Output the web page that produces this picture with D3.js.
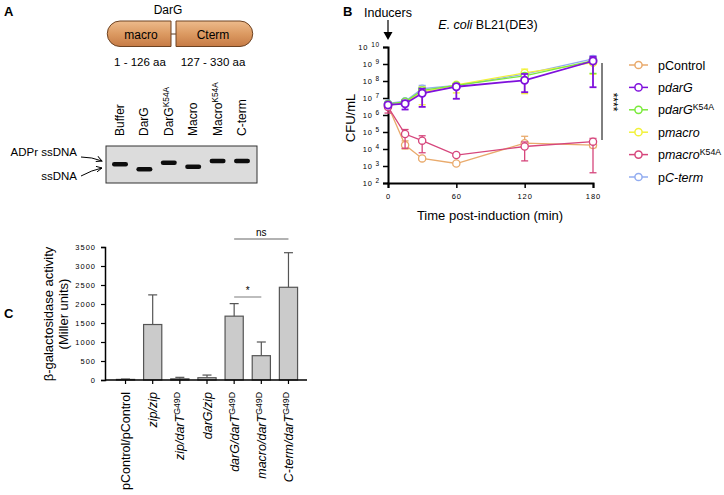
<!DOCTYPE html>
<html>
<head>
<meta charset="utf-8">
<script src="https://cdn.jsdelivr.net/npm/d3@7"></script>
<style>
body { margin: 0; background: #fff; }
svg { font-family: "Liberation Sans", Arial, sans-serif; }
</style>
</head>
<body>
<svg id="fig" width="724" height="495"></svg>
<script>
// ---------- data ----------
// panel A: gel lanes and band migration (distance below gel top, arbitrary units)
var gelLanes = ["Buffer", "DarG", "DarG^K54A", "Macro", "Macro^K54A", "C-term"];
var gelBands = [18.3, 23.3, 16.7, 20.7, 15, 15];

// panel B: CFU/mL over time
var times = [0, 15, 30, 60, 120, 180];
var seriesNames = ["pControl", "p|darG", "p|darG|K54A", "p|macro", "p|macro|K54A", "p|C-term"];
var seriesColors = ["#E9AA6C", "#7F10DC", "#7BEA3C", "#F2F23A", "#D6467C", "#92ACF0"];
var pControl = [3.5e6, 1.7e4, 2.8e3, 1.4e3, 2.2e4, 1.7e4];
var pControlLo = [2.6e6, 1.0e4, 2.3e3, 1.1e3, 1.6e4, 1.2e4];
var pControlHi = [4.8e6, 3.0e4, 3.4e3, 1.8e3, 5.6e4, 2.4e4];
var pDarG = [3.9e6, 4.6e6, 1.9e7, 4.6e7, 1.1e8, 1.5e9];
var pDarGLo = [3.0e6, 2.1e6, 3.0e6, 9.0e6, 2.2e7, 4.3e7];
var pDarGHi = [5.0e6, 7.0e6, 3.5e7, 6.5e7, 2.6e8, 2.7e9];
var pDarGK54A = [4.5e6, 6.0e6, 2.8e7, 5.5e7, 2.0e8, 1.6e9];
var pDarGK54ALo = [3.5e6, 4.5e6, 1.8e7, 4.0e7, 1.4e8, 2.8e8];
var pDarGK54AHi = [5.5e6, 7.5e6, 4.0e7, 7.0e7, 2.8e8, 2.2e9];
var pMacro = [3.6e6, 5.5e6, 2.2e7, 6.0e7, 3.0e8, 1.2e9];
var pMacroLo = [2.8e6, 4.0e6, 4.0e6, 2.0e7, 1.8e7, 2.5e8];
var pMacroHi = [5.0e6, 7.0e6, 4.5e7, 8.0e7, 5.0e8, 1.8e9];
var pMacroK54A = [3.0e6, 7.6e4, 3.1e4, 4.4e3, 1.4e4, 2.7e4];
var pMacroK54ALo = [1.3e6, 1.1e4, 6.0e3, 3.8e3, 2.0e3, 4.0e2];
var pMacroK54AHi = [4.0e6, 1.4e5, 6.0e4, 5.0e3, 2.6e4, 4.2e4];
var pCterm = [4.8e6, 6.5e6, 3.5e7, 5.5e7, 2.5e8, 2.0e9];
var pCtermLo = [4.0e6, 5.0e6, 2.5e7, 4.5e7, 1.8e8, 1.2e9];
var pCtermHi = [6.0e6, 8.0e6, 5.5e7, 7.0e7, 3.5e8, 3.0e9];
var logTicks = [1e2, 1e3, 1e4, 1e5, 1e6, 1e7, 1e8, 1e9, 1e10];
var timeTicks = [0, 60, 120, 180];

// panel C: beta-galactosidase activity
var pairs = ["pControl/pControl", "zip/zip", "zip/darT^G49D", "darG/zip", "darG/darT^G49D", "macro/darT^G49D", "C-term/darT^G49D"];
var activity = [15, 1460, 30, 60, 1680, 640, 2440];
var activityErr = [25, 2240, 70, 130, 2010, 1000, 3350];
var activityTicks = [0, 500, 1000, 1500, 2000, 2500, 3000, 3500];

var svg = d3.select("#fig");

// helper: text with italic parts and superscript, "a|b|c" = upright|italic|sup
function richText(sel, label, italicAll) {
    var parts = label.split("^");
    var main = parts[0].split("|");
    if (main.length > 1) {
        sel.append("tspan").text(main[0]);
        sel.append("tspan").attr("font-style", "italic").text(main[1]);
        if (main[2]) sel.append("tspan").attr("font-size", "0.7em").attr("dy", "-0.45em").text(main[2]);
    } else {
        sel.append("tspan").attr("font-style", italicAll ? "italic" : null).text(main[0]);
    }
    if (parts[1]) sel.append("tspan").attr("font-size", "0.7em").attr("dy", "-0.45em").text(parts[1]);
}

// panel letters
svg.append("text").attr("x", 4).attr("y", 16).attr("font-weight", "bold").attr("font-size", 13).text("A");
svg.append("text").attr("x", 343).attr("y", 16).attr("font-weight", "bold").attr("font-size", 13).text("B");
svg.append("text").attr("x", 4).attr("y", 318).attr("font-weight", "bold").attr("font-size", 13).text("C");

// ---------- panel A ----------
var defs = svg.append("defs");
var grad = defs.append("linearGradient").attr("id", "dom").attr("x1", 0).attr("y1", 0).attr("x2", 0).attr("y2", 1);
grad.append("stop").attr("offset", "0%").attr("stop-color", "#EDBB8C");
grad.append("stop").attr("offset", "50%").attr("stop-color", "#DC9A62");
grad.append("stop").attr("offset", "100%").attr("stop-color", "#C67B45");
defs.append("filter").attr("id", "blur").append("feGaussianBlur").attr("stdDeviation", 0.7);
defs.append("marker").attr("id", "arr").attr("viewBox", "0 0 10 10").attr("refX", 9).attr("refY", 5)
    .attr("markerWidth", 7).attr("markerHeight", 7).attr("orient", "auto")
    .append("path").attr("d", "M1,1L9,5L1,9").attr("fill", "none").attr("stroke", "#000").attr("stroke-width", 1.3);

var A = svg.append("g");
A.append("text").attr("x", 168).attr("y", 14).attr("text-anchor", "middle").attr("font-size", 12).text("DarG");
A.append("line").attr("x1", 171).attr("x2", 176).attr("y1", 34).attr("y2", 34).attr("stroke", "#5a3a20");
A.append("path").attr("d", "M120,21 H171 V46.5 H120 A12.75,12.75 0 0 1 120,21 Z")
    .attr("fill", "url(#dom)").attr("stroke", "#6e4322").attr("stroke-width", 1);
A.append("path").attr("d", "M176,21 H240 A12.75,12.75 0 0 1 240,46.5 H176 Z")
    .attr("fill", "url(#dom)").attr("stroke", "#6e4322").attr("stroke-width", 1);
A.append("text").attr("x", 141).attr("y", 38.5).attr("text-anchor", "middle").attr("font-size", 12).text("macro");
A.append("text").attr("x", 213).attr("y", 38.5).attr("text-anchor", "middle").attr("font-size", 12).text("Cterm");
A.append("text").attr("x", 140).attr("y", 66).attr("text-anchor", "middle").attr("font-size", 11.5).text("1 - 126 aa");
A.append("text").attr("x", 213).attr("y", 66).attr("text-anchor", "middle").attr("font-size", 11.5).text("127 - 330 aa");

var laneX = d3.scalePoint().domain(gelLanes).range([120, 242]);
var migY = d3.scaleLinear().domain([0, 37]).range([146, 183]);

gelLanes.forEach(function(l) {
    var t = A.append("text").attr("font-size", 12)
        .attr("transform", "translate(" + (laneX(l) + 4) + ",136) rotate(-90)");
    richText(t, l, false);
});
A.append("rect").attr("x", 106).attr("y", 146).attr("width", 151).attr("height", 37)
    .attr("fill", "#dcdcdc").attr("stroke", "#333").attr("stroke-width", 1);
A.selectAll(".band").data(gelLanes).enter().append("rect")
    .attr("x", function(d) { return laneX(d) - 8; })
    .attr("y", function(d, i) { return migY(gelBands[i]) - 2.2; })
    .attr("width", 16).attr("height", 4.4).attr("rx", 2.2)
    .attr("fill", "#111").attr("filter", "url(#blur)");
A.append("text").attr("x", 77).attr("y", 156).attr("text-anchor", "end").attr("font-size", 11.5).text("ADPr ssDNA");
A.append("text").attr("x", 77).attr("y", 180).attr("text-anchor", "end").attr("font-size", 11.5).text("ssDNA");
A.append("path").attr("d", "M81,157 Q92,157 102,161").attr("fill", "none").attr("stroke", "#000").attr("marker-end", "url(#arr)");
A.append("path").attr("d", "M81,176 Q92,170 102,168").attr("fill", "none").attr("stroke", "#000").attr("marker-end", "url(#arr)");

// ---------- panel B ----------
var xB = d3.scaleLinear().domain([0, 180]).range([388, 593]);
var yB = d3.scaleLog().domain([1e2, 1e10]).range([183, 47]);
var B = svg.append("g");

B.append("text").attr("x", 388).attr("y", 17).attr("text-anchor", "middle").attr("font-size", 12.5).text("Inducers");
B.append("line").attr("x1", 388).attr("x2", 388).attr("y1", 20).attr("y2", 33).attr("stroke", "#000").attr("stroke-width", 1.2);
B.append("path").attr("d", "M383.5,32 L392.5,32 L388,40 Z").attr("fill", "#000");
var ttl = B.append("text").attr("x", 488).attr("y", 29).attr("text-anchor", "middle").attr("font-size", 12.5);
ttl.append("tspan").attr("font-style", "italic").text("E. coli");
ttl.append("tspan").text(" BL21(DE3)");

var yAxB = B.append("g").attr("transform", "translate(388,0)")
    .call(d3.axisLeft(yB).tickValues(logTicks).tickSize(5).tickFormat(""));
yAxB.selectAll(".tick").append("text").attr("x", -8).attr("dy", "0.32em").attr("text-anchor", "end")
    .attr("fill", "#000").attr("font-size", 7.5).attr("letter-spacing", 0.8)
    .each(function(d) {
        var t = d3.select(this);
        t.append("tspan").text("10 ");
        t.append("tspan").attr("font-size", 6.5).attr("dy", "-0.5em").text(Math.round(Math.log10(d)));
    });
var xAxB = B.append("g").attr("transform", "translate(0,183)")
    .call(d3.axisBottom(xB).tickValues(timeTicks).tickSize(5).tickPadding(6));
xAxB.selectAll("text").attr("font-size", 7.5).attr("letter-spacing", 1).attr("fill", "#000");
[yAxB, xAxB].forEach(function(g) {
    g.select(".domain").attr("stroke-width", 2);
    g.selectAll(".tick line").attr("stroke-width", 1.5);
});

B.append("text").attr("transform", "translate(355,118) rotate(-90)").attr("text-anchor", "middle")
    .attr("font-size", 13).text("CFU/mL");
B.append("text").attr("x", 490).attr("y", 220).attr("text-anchor", "middle").attr("font-size", 13)
    .text("Time post-induction (min)");

var series = [
    {v: pControl, lo: pControlLo, hi: pControlHi, c: 0},
    {v: pCterm, lo: pCtermLo, hi: pCtermHi, c: 5},
    {v: pMacro, lo: pMacroLo, hi: pMacroHi, c: 3},
    {v: pDarGK54A, lo: pDarGK54ALo, hi: pDarGK54AHi, c: 2},
    {v: pMacroK54A, lo: pMacroK54ALo, hi: pMacroK54AHi, c: 4},
    {v: pDarG, lo: pDarGLo, hi: pDarGHi, c: 1}
];
var lineB = d3.line().x(function(d) { return xB(d[0]); }).y(function(d) { return yB(d[1]); });

series.forEach(function(s) {
    var col = seriesColors[s.c];
    var w = s.c == 1 ? 1.8 : 1.3;
    var g = B.append("g");
    var pts = times.map(function(t, i) { return [t, s.v[i]]; });
    g.append("path").datum(pts).attr("d", lineB).attr("fill", "none").attr("stroke", col).attr("stroke-width", w);
    times.forEach(function(t, i) {
        var x = xB(t);
        g.append("line").attr("x1", x).attr("x2", x).attr("y1", yB(s.lo[i])).attr("y2", yB(s.hi[i]))
            .attr("stroke", col).attr("stroke-width", w);
        [s.lo[i], s.hi[i]].forEach(function(e) {
            g.append("line").attr("x1", x - 3.5).attr("x2", x + 3.5).attr("y1", yB(e)).attr("y2", yB(e))
                .attr("stroke", col).attr("stroke-width", w);
        });
    });
    g.selectAll("circle").data(pts).enter().append("circle")
        .attr("cx", function(d) { return xB(d[0]); }).attr("cy", function(d) { return yB(d[1]); })
        .attr("r", 3.6).attr("fill", "#fff").attr("stroke", col).attr("stroke-width", w);
});

B.append("line").attr("x1", 602).attr("x2", 602).attr("y1", 63).attr("y2", 140).attr("stroke", "#000").attr("stroke-width", 1);
B.append("text").attr("transform", "translate(609,102) rotate(90)").attr("text-anchor", "middle")
    .attr("font-size", 12).text("****");

// legend
var legY = d3.scalePoint().domain(seriesNames).range([65, 177]);
seriesNames.forEach(function(n, i) {
    var y = legY(n);
    B.append("line").attr("x1", 629).attr("x2", 648).attr("y1", y).attr("y2", y)
        .attr("stroke", seriesColors[i]).attr("stroke-width", 1.5);
    B.append("circle").attr("cx", 638.5).attr("cy", y).attr("r", 3.6).attr("fill", "#fff")
        .attr("stroke", seriesColors[i]).attr("stroke-width", 1.5);
    var t = B.append("text").attr("x", 658).attr("y", y + 4.5).attr("font-size", 12.5);
    richText(t, n, false);
});

// ---------- panel C ----------
var xC = d3.scaleBand().domain(pairs).range([111, 303]).paddingInner(0.33).paddingOuter(0.2);
var yC = d3.scaleLinear().domain([0, 3500]).range([380, 247]);
var C = svg.append("g");

C.selectAll(".err").data(pairs).enter().append("g").each(function(d, i) {
    var g = d3.select(this), x = xC(d) + xC.bandwidth() / 2;
    g.append("line").attr("x1", x).attr("x2", x).attr("y1", yC(activity[i])).attr("y2", yC(activityErr[i]))
        .attr("stroke", "#555").attr("stroke-width", 1.2);
    g.append("line").attr("x1", x - 4.5).attr("x2", x + 4.5).attr("y1", yC(activityErr[i])).attr("y2", yC(activityErr[i]))
        .attr("stroke", "#555").attr("stroke-width", 1.2);
});
C.selectAll(".bar").data(pairs).enter().append("rect")
    .attr("x", function(d) { return xC(d); })
    .attr("y", function(d, i) { return yC(activity[i]); })
    .attr("width", xC.bandwidth())
    .attr("height", function(d, i) { return yC(0) - yC(activity[i]); })
    .attr("fill", "#cbcbcb").attr("stroke", "#555").attr("stroke-width", 1.2);

var yAxC = C.append("g").attr("transform", "translate(105,0)")
    .call(d3.axisLeft(yC).tickValues(activityTicks).tickSize(4).tickPadding(5).tickFormat(d3.format("d")));
yAxC.selectAll("text").attr("font-size", 7.5).attr("letter-spacing", 1).attr("fill", "#000");
var xAxC = C.append("g").attr("transform", "translate(0,380)")
    .call(d3.axisBottom(xC).tickSize(4).tickFormat(""));
xAxC.select(".domain").attr("d", "M105,0H307");
[yAxC, xAxC].forEach(function(g) {
    g.select(".domain").attr("stroke-width", 1.5);
    g.selectAll(".tick line").attr("stroke-width", 1.2);
});

pairs.forEach(function(p, i) {
    var t = C.append("text").attr("font-size", 12.5).attr("text-anchor", "end")
        .attr("transform", "translate(" + (xC(p) + xC.bandwidth() / 2 + 4.5) + ",392) rotate(-90)");
    richText(t, p, i > 0);
});

C.append("text").attr("transform", "translate(53,314) rotate(-90)").attr("text-anchor", "middle")
    .attr("font-size", 13).text("β-galactosidase activity");
C.append("text").attr("transform", "translate(68,314) rotate(-90)").attr("text-anchor", "middle")
    .attr("font-size", 13).text("(Miller units)");

function sigBar(a, b, y, label) {
    var x1 = xC(pairs[a]) + xC.bandwidth() / 2, x2 = xC(pairs[b]) + xC.bandwidth() / 2;
    C.append("line").attr("x1", x1).attr("x2", x2).attr("y1", y).attr("y2", y).attr("stroke", "#999").attr("stroke-width", 1.3);
    C.append("text").attr("x", (x1 + x2) / 2).attr("y", y - 3).attr("text-anchor", "middle")
        .attr("font-size", 10).text(label);
}
sigBar(4, 5, 297, "*");
sigBar(4, 6, 239, "ns");
</script>
</body>
</html>
